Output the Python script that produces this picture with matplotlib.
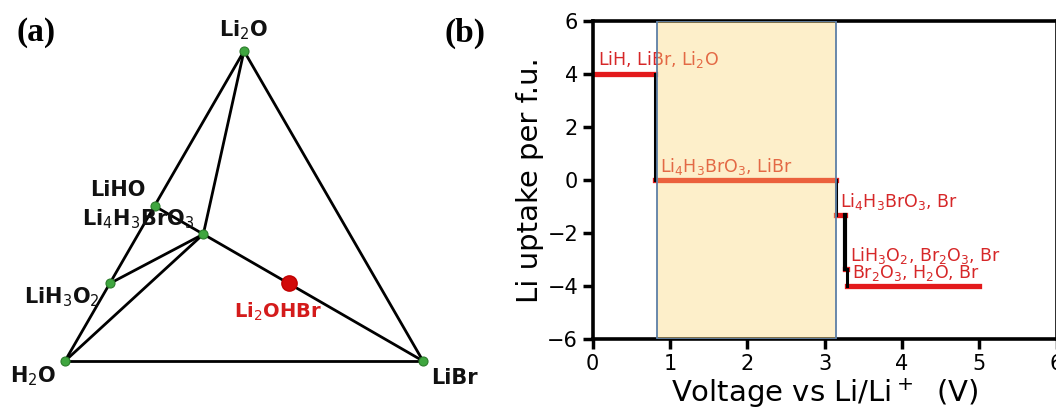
import numpy as np
import matplotlib
matplotlib.use("Agg")
import matplotlib.pyplot as plt

# ---------------- (a) ternary phase diagram data ----------------
# fractions (Li2O, H2O, LiBr) of each phase
phase_names = ["Li2O", "H2O", "LiBr", "LiHO", "LiH3O2", "Li4H3BrO3"]
phase_fracs = [
    (1.0, 0.0, 0.0),
    (0.0, 1.0, 0.0),
    (0.0, 0.0, 1.0),
    (0.5, 0.5, 0.0),
    (0.25, 0.75, 0.0),
    (4.5 / 11, 4.5 / 11, 2.0 / 11),
]
phase_labels = ["Li$_2$O", "H$_2$O", "LiBr", "LiHO", "Li$_4$H$_3$BrO$_3$", "LiH$_3$O$_2$"]
tie_lines = [
    ("Li2O", "LiBr"), ("H2O", "LiBr"),
    ("H2O", "LiH3O2"), ("LiH3O2", "LiHO"), ("LiHO", "Li2O"),
    ("Li2O", "Li4H3BrO3"), ("Li4H3BrO3", "LiBr"), ("Li4H3BrO3", "H2O"),
    ("Li4H3BrO3", "LiH3O2"), ("Li4H3BrO3", "LiHO"),
]
target_name = "Li$_2$OHBr"
target_frac = (0.25, 0.25, 0.5)

# ---------------- (b) Li uptake vs voltage data ----------------
step_v_start = [0.0, 0.80, 3.15, 3.27, 3.29]
step_v_end = [0.80, 3.15, 3.27, 3.29, 5.0]
step_uptake = [4.0, 0.0, -4.0 / 3, -10.0 / 3, -4.0]
step_labels = [
    "LiH, LiBr, Li$_2$O",
    "Li$_4$H$_3$BrO$_3$, LiBr",
    "Li$_4$H$_3$BrO$_3$, Br",
    "LiH$_3$O$_2$, Br$_2$O$_3$, Br",
    "Br$_2$O$_3$, H$_2$O, Br",
]
stable_window = (0.83, 3.15)


def to_xy(f):
    """Barycentric (Li2O, H2O, LiBr) -> cartesian, H2O at origin, LiBr at (1,0)."""
    top, left, right = f
    return right + 0.5 * top, np.sqrt(3) / 2 * top


W, H = 1056, 407
fig = plt.figure(figsize=(W / 100, H / 100), dpi=100)

# ---------- panel (a) ----------
ax_a = fig.add_axes([0, 0, 470 / W, 1])
ax_a.set_xlim(-65 / 358, (470 - 65) / 358)
ax_a.set_ylim(-(407 - 361) / 358, 361 / 358)
ax_a.axis("off")

pos = {n: to_xy(f) for n, f in zip(phase_names, phase_fracs)}
for a, b in tie_lines:
    (x0, y0), (x1, y1) = pos[a], pos[b]
    ax_a.plot([x0, x1], [y0, y1], color="black", lw=2.0, zorder=2)

px = [pos[n][0] for n in phase_names]
py = [pos[n][1] for n in phase_names]
ax_a.plot(px, py, ls="none", marker="o", ms=6.5, mfc="#3fa63f",
          mec="#2b7d2b", mew=0.8, zorder=3)

tx, ty = to_xy(target_frac)
ax_a.plot([tx], [ty], ls="none", marker="o", ms=11, mfc="#d10a0a",
          mec="#c00000", zorder=4)

label_pos = {
    "Li$_2$O": (0.5, 0.925),
    "H$_2$O": (-0.089, -0.042),
    "LiBr": (1.089, -0.047),
    "LiHO": (0.148, 0.478),
    "Li$_4$H$_3$BrO$_3$": (0.204, 0.397),
    "LiH$_3$O$_2$": (-0.008, 0.179),
}
for lab in phase_labels:
    x, y = label_pos[lab]
    ax_a.text(x, y, lab, ha="center", va="center", fontsize=15,
              fontweight="bold", color="#111111", zorder=5)
ax_a.text(0.595, 0.137, target_name, ha="center", va="center", fontsize=14,
          fontweight="bold", color="#d41b1b", zorder=5)

fig.text(36 / W, 1 - 33 / H, "(a)", ha="center", va="center", fontsize=24,
         fontweight="bold", family="Liberation Serif")
fig.text(465 / W, 1 - 33 / H, "(b)", ha="center", va="center", fontsize=24,
         fontweight="bold", family="Liberation Serif")

# ---------- panel (b) ----------
left, right = 592.7, 1056.5
bottom, top = 339.3, 20.7
ax_b = fig.add_axes([left / W, 1 - bottom / H, (right - left) / W, (bottom - top) / H])
ax_b.set_xlim(0, 6)
ax_b.set_ylim(-6, 6)

red = "#e31a1c"
for i, (v0, v1, u) in enumerate(zip(step_v_start, step_v_end, step_uptake)):
    ax_b.plot([v0, v1], [u, u], color=red, lw=3.8, zorder=2)
    if i + 1 < len(step_uptake):
        ax_b.plot([v1, v1], [u, step_uptake[i + 1]], color="black",
                  lw=2.2 if i != 2 else 3.0, zorder=2.5)

label_xy = [(0.066, 4.33), (0.87, 0.31), (3.20, -1.02), (3.33, -3.04), (3.35, -3.68)]
for (x, y), lab in zip(label_xy, step_labels):
    ax_b.text(x, y, lab, fontsize=12.5, color="#d62728", ha="left",
              va="baseline", zorder=3)

ax_b.axvspan(*stable_window, facecolor=(0.98, 0.84, 0.46, 0.38),
             edgecolor="#5d7fa6", lw=1.3, zorder=4)

ax_b.set_xticks(range(0, 7))
ax_b.set_yticks(range(-6, 7, 2))
ax_b.tick_params(labelsize=15, width=2.5, length=7, direction="out")
for sp in ax_b.spines.values():
    sp.set_linewidth(2.6)
ax_b.set_xlabel("Voltage vs Li/Li$^+$  (V)", fontsize=21, labelpad=2)
ax_b.set_ylabel("Li uptake per f.u.", fontsize=21, labelpad=2)

fig.savefig("out.png", dpi=100)
